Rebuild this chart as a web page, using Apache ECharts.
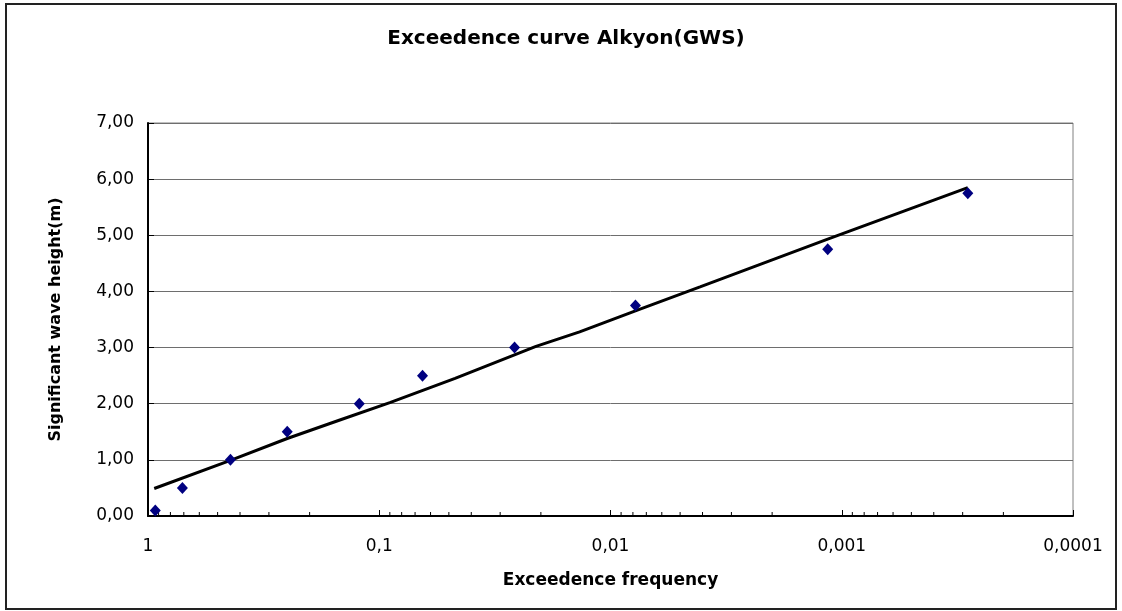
<!DOCTYPE html>
<html>
<head>
<meta charset="utf-8">
<script src="https://cdn.jsdelivr.net/npm/echarts@6/dist/echarts.min.js"></script>
<style>html,body{margin:0;padding:0;background:#fff;}#c{width:1122px;height:611px;}</style>
</head>
<body>
<div id="c"></div>
<script>
// Observed data points (exceedence frequency, significant wave height)
const obsFreq   = [0.93, 0.71, 0.44, 0.25, 0.122, 0.065, 0.026, 0.0078, 0.00115, 0.000285];
const obsHeight = [0.10, 0.50, 1.00, 1.50, 2.00, 2.50, 3.00, 3.75, 4.75, 5.75];
// Fitted curve
const fitFreq   = [0.94, 0.44, 0.25, 0.148, 0.09, 0.047, 0.021, 0.0136, 0.0075, 0.0041, 0.00115, 0.000285];
const fitHeight = [0.49, 0.99, 1.38, 1.71, 2.02, 2.45, 3.02, 3.28, 3.68, 4.08, 4.93, 5.85];
// Tick labels
const xTickLabels = ['1', '0,1', '0,01', '0,001', '0,0001'];
const yTickLabels = ['0,00', '1,00', '2,00', '3,00', '4,00', '5,00', '6,00', '7,00'];
// Minor tick values (2..9 within each decade)
const minorTickValues = [0.9,0.8,0.7,0.6,0.5,0.4,0.3,0.2,
  0.09,0.08,0.07,0.06,0.05,0.04,0.03,0.02,
  0.009,0.008,0.007,0.006,0.005,0.004,0.003,0.002,
  0.0009,0.0008,0.0007,0.0006,0.0005,0.0004,0.0003,0.0002];

const chart = echarts.init(document.getElementById('c'), null, {renderer: 'canvas'});
const FONT = 'DejaVu Sans';

chart.setOption({
  animation: false,
  backgroundColor: '#fff',
  graphic: [
    {type: 'rect', shape: {x: 6, y: 4, width: 1110, height: 605}, style: {fill: 'none', stroke: '#222', lineWidth: 2}, z: 100},
    {type: 'text', x: 566, y: 39, style: {text: 'Exceedence curve Alkyon(GWS)', font: 'bold 20px "DejaVu Sans"', fill: '#000', textAlign: 'center', textVerticalAlign: 'middle'}}
  ],
  grid: {left: 148, top: 123, right: 49, bottom: 95, show: true, borderColor: '#808080', borderWidth: 1, backgroundColor: '#fff'},
  xAxis: {
    type: 'log', logBase: 10, min: 0.0001, max: 1, inverse: true,
    name: 'Exceedence frequency', nameLocation: 'middle', nameGap: 56,
    nameTextStyle: {fontFamily: FONT, fontWeight: 'bold', fontSize: 17, color: '#000'},
    axisLine: {show: true, onZero: false, lineStyle: {color: '#000', width: 2}},
    axisTick: {show: true, inside: true, length: 6, lineStyle: {color: '#000', width: 1}},
    minorTick: {show: false},
    splitLine: {show: false},
    axisLabel: {margin: 22, fontFamily: FONT, fontSize: 17, color: '#000',
      formatter: function (v) { const i = Math.round(-Math.log10(v)); return xTickLabels[i] || ''; }}
  },
  yAxis: {
    type: 'value', min: 0, max: 7, interval: 1,
    name: 'Significant wave height(m)', nameLocation: 'middle', nameGap: 84, nameRotate: 90,
    nameTextStyle: {fontFamily: FONT, fontWeight: 'bold', fontSize: 16, color: '#000'},
    axisLine: {show: true, lineStyle: {color: '#000', width: 2}},
    axisTick: {show: true, inside: true, length: 6, lineStyle: {color: '#000', width: 1}},
    splitLine: {show: true, lineStyle: {color: '#6e6e6e', width: 1}},
    axisLabel: {margin: 14, fontFamily: FONT, fontSize: 17, color: '#000',
      formatter: function (v) { return yTickLabels[Math.round(v)]; }}
  },
  series: [
    {
      type: 'custom', silent: true, z: 3,
      data: minorTickValues.map(v => [v, 0]),
      renderItem: function (params, api) {
        const p = api.coord([api.value(0), 0]);
        return {type: 'line', shape: {x1: p[0], y1: p[1], x2: p[0], y2: p[1] - 4}, style: {stroke: '#000', lineWidth: 1}};
      }
    },
    {
      type: 'line', data: fitFreq.map((f, i) => [f, fitHeight[i]]),
      showSymbol: false, symbol: 'none', smooth: false,
      lineStyle: {color: '#000', width: 3}, z: 4
    },
    {
      type: 'scatter', data: obsFreq.map((f, i) => [f, obsHeight[i]]),
      symbol: 'diamond', symbolSize: [11, 12],
      itemStyle: {color: '#000080', opacity: 1}, z: 5
    }
  ]
});
</script>
</body>
</html>
